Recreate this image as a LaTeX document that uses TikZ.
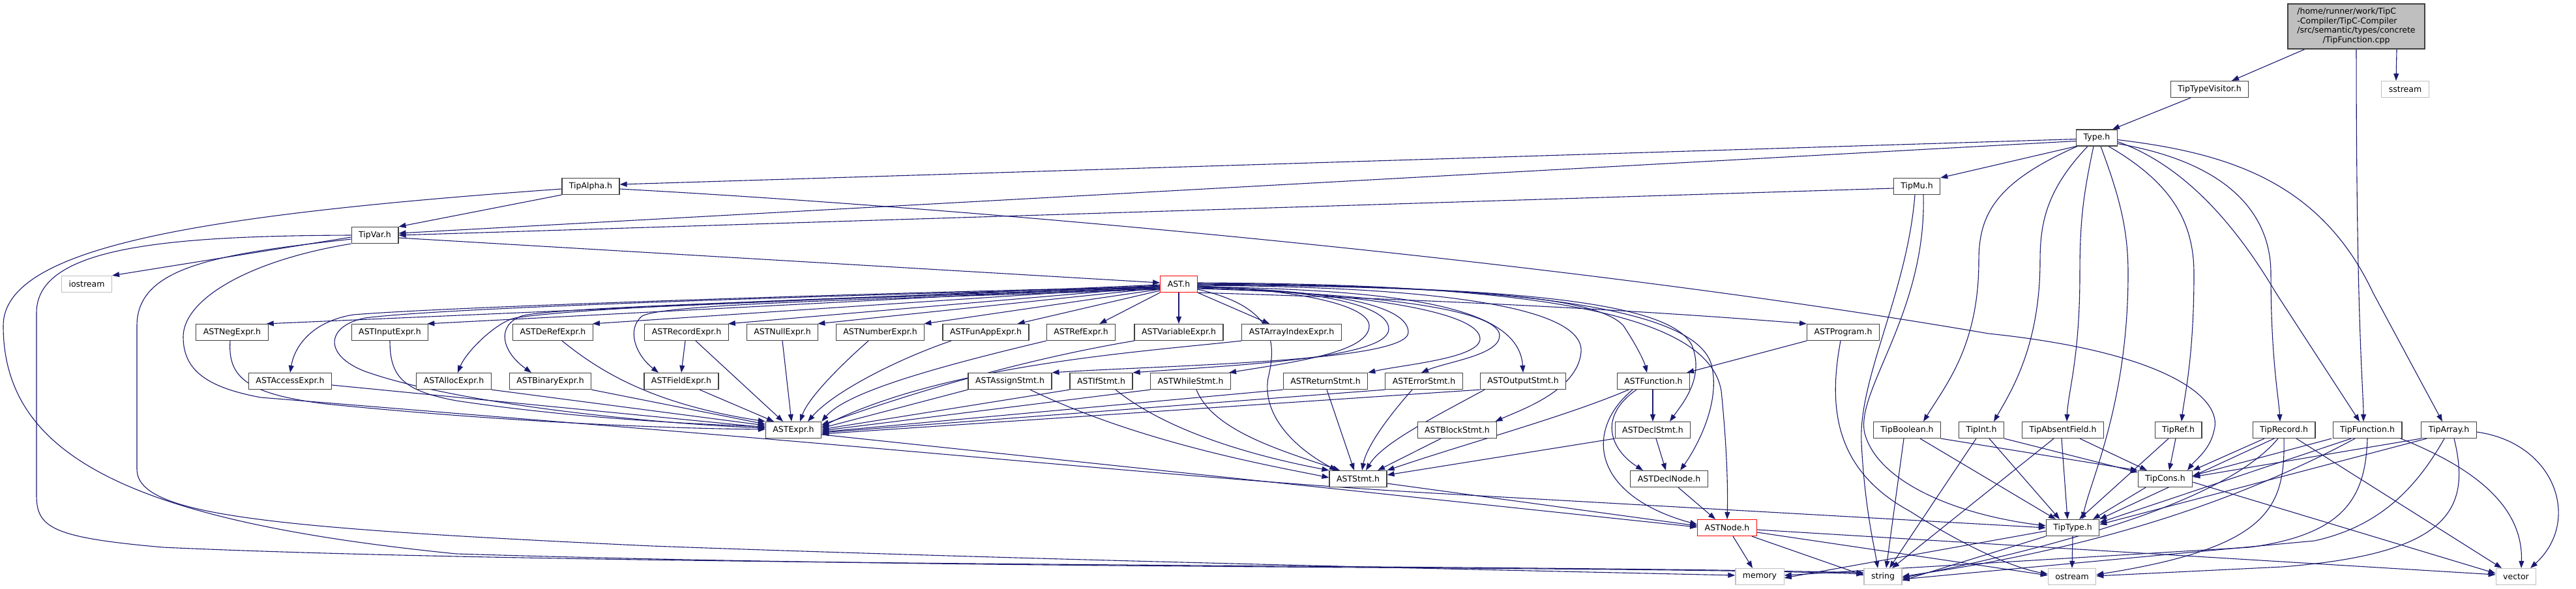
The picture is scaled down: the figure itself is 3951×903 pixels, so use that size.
\documentclass[tikz,border=0pt]{standalone}
\usepackage{fontspec}
\setmainfont{DejaVu Sans}
\usetikzlibrary{arrows.meta,backgrounds}
\definecolor{edgec}{HTML}{191970}
\definecolor{nodeb}{HTML}{404040}
\definecolor{sysb}{HTML}{BFBFBF}
\definecolor{redb}{HTML}{FF0000}
\definecolor{rootf}{HTML}{BFBFBF}
\newcommand\fsz{\fontsize{12.5}{14.5}\selectfont}
\tikzset{
  hdr/.style={draw=nodeb, line width=1.2pt, fill=white, minimum height=25pt, inner xsep=11pt, inner ysep=0pt, font=\fsz},
  sys/.style={hdr, draw=sysb},
  trunc/.style={hdr, draw=redb},
  edg/.style={draw=edgec, line width=1.1pt, -{Triangle[length=11pt,width=8pt]}},
}
\begin{document}
\begin{tikzpicture}[x=1pt,y=-1pt]
\useasboundingbox (0,0) rectangle (3951,903);
% nodes
\node[hdr, fill=rootf, minimum width=210pt, minimum height=69pt] (root) at (3614,40.5)
 {\begin{tabular}{@{}l@{}}/home/runner/work/TipC\\-Compiler/TipC-Compiler\\/src/semantic/types/concrete\\\multicolumn{1}{@{}c@{}}{/TipFunction.cpp}\end{tabular}};
\node[hdr] (ttv) at (3389,137) {TipTypeVisitor.h};
\node[sys] (sstream) at (3689,137) {sstream};
\node[hdr] (type) at (3216,211.5) {Type.h};
\node[hdr] (alpha) at (906,286) {TipAlpha.h};
\node[hdr] (mu) at (2940,286) {TipMu.h};
\node[hdr] (var) at (575,361) {TipVar.h};
\node[sys] (iostream) at (133,436) {iostream};
\node[trunc] (ast) at (1808,436) {AST.h};
\node[hdr] (neg) at (356,510) {ASTNegExpr.h};
\node[hdr] (input) at (598,510) {ASTInputExpr.h};
\node[hdr] (deref) at (848,510) {ASTDeRefExpr.h};
\node[hdr] (record) at (1053,510) {ASTRecordExpr.h};
\node[hdr] (null) at (1200,510) {ASTNullExpr.h};
\node[hdr] (number) at (1350,510) {ASTNumberExpr.h};
\node[hdr] (funapp) at (1512,510) {ASTFunAppExpr.h};
\node[hdr] (ref) at (1658,510) {ASTRefExpr.h};
\node[hdr] (variable) at (1808,510) {ASTVariableExpr.h};
\node[hdr] (arrayidx) at (1981,510) {ASTArrayIndexExpr.h};
\node[hdr] (program) at (2827,510) {ASTProgram.h};
\node[hdr] (access) at (445,585) {ASTAccessExpr.h};
\node[hdr] (alloc) at (696,585) {ASTAllocExpr.h};
\node[hdr] (binary) at (844,585) {ASTBinaryExpr.h};
\node[hdr] (field) at (1045,585) {ASTFieldExpr.h};
\node[hdr] (assign) at (1549,585) {ASTAssignStmt.h};
\node[hdr] (ifs) at (1689,585) {ASTIfStmt.h};
\node[hdr] (while) at (1826,585) {ASTWhileStmt.h};
\node[hdr] (return) at (2033,585) {ASTReturnStmt.h};
\node[hdr] (error) at (2184,585) {ASTErrorStmt.h};
\node[hdr] (output) at (2336,585) {ASTOutputStmt.h};
\node[hdr] (function) at (2536,585) {ASTFunction.h};
\node[hdr] (expr) at (1217,660) {ASTExpr.h};
\node[hdr] (block) at (2235,660) {ASTBlockStmt.h};
\node[hdr] (declstmt) at (2535,660) {ASTDeclStmt.h};
\node[hdr] (boolean) at (2925,660) {TipBoolean.h};
\node[hdr] (int) at (3039,660) {TipInt.h};
\node[hdr] (absent) at (3164,660) {TipAbsentField.h};
\node[hdr] (tref) at (3341,660) {TipRef.h};
\node[hdr] (trecord) at (3503,660) {TipRecord.h};
\node[hdr] (tfunction) at (3631,660) {TipFunction.h};
\node[hdr] (tarray) at (3756,660) {TipArray.h};
\node[hdr] (stmt) at (2083,735) {ASTStmt.h};
\node[hdr] (declnode) at (2560,735) {ASTDeclNode.h};
\node[hdr] (cons) at (3321,735) {TipCons.h};
\node[trunc] (node) at (2649,810) {ASTNode.h};
\node[hdr] (tiptype) at (3179,810) {TipType.h};
\node[sys] (memory) at (2699,885) {memory};
\node[sys] (string) at (2888,885) {string};
\node[sys] (ostream) at (3178,885) {ostream};
\node[sys] (vector) at (3859,885) {vector};
\begin{pgfonlayer}{background}
% root
\draw[edg] ([xshift=-79pt]root.south) -- ([xshift=34pt]ttv.north);
\draw[edg] ([xshift=62pt]root.south) -- ([xshift=-14pt]sstream.north);
\draw[edg] (root.south) .. controls (3614,500) and (3625,600) .. ([xshift=-6pt]tfunction.north);
\draw[edg] ([xshift=-29pt]ttv.south) -- ([xshift=-8pt]type.north east);
% Type.h
\draw[edg] ([yshift=-2pt]type.west) -- ([yshift=3pt]alpha.east);
\draw[edg] ([yshift=-5pt]type.west) -- ([yshift=3pt]var.east);
\draw[edg] (type.south west) -- (mu.north east);
\draw[edg] ([xshift=-30pt]type.south) .. controls (3060,280) and (3035,330) .. (3035,400) .. controls (3035,530) and (2985,590) .. ([xshift=25pt]boolean.north);
\draw[edg] ([xshift=-14pt]type.south) .. controls (3140,290) and (3129,340) .. (3129,400) .. controls (3129,530) and (3085,600) .. ([xshift=19pt]int.north);
\draw[edg] ([xshift=-5pt]type.south) .. controls (3195,300) and (3190,340) .. (3190,420) .. controls (3190,550) and (3172,600) .. ([xshift=6pt]absent.north);
\draw[edg] ([xshift=6pt]type.south) .. controls (3250,300) and (3264,350) .. (3264,420) .. controls (3264,620) and (3205,740) .. ([xshift=15pt]tiptype.north);
\draw[edg] ([xshift=18pt]type.south) .. controls (3330,280) and (3365,340) .. (3365,420) .. controls (3365,550) and (3350,610) .. ([xshift=5pt]tref.north);
\draw[edg] ([yshift=-9pt]type.east) .. controls (3420,250) and (3483,330) .. (3483,420) .. controls (3483,550) and (3495,610) .. ([xshift=-6pt]trecord.north);
\draw[edg] ([yshift=-6pt]type.east) .. controls (3340,250) and (3420,330) .. (3491,450) -- ([xshift=-12pt]tfunction.north);
\draw[edg] ([yshift=-3pt]type.east) .. controls (3420,235) and (3560,280) .. (3640,450) -- ([xshift=-10pt]tarray.north);
% TipAlpha
\draw[edg] (alpha.south west) -- (var.north east);
\draw[edg] ([yshift=-4pt]alpha.east) .. controls (1500,320) and (2400,400) .. (3050,512) .. controls (3320,540) and (3410,610) .. (3396,660) .. controls (3390,690) and (3368,705) .. ([xshift=34pt]cons.north);
\draw[edg] ([yshift=-4pt]alpha.west) .. controls (300,330) and (5,380) .. (5,500) .. controls (5,700) and (200,800) .. (700,850) .. controls (1500,875) and (2500,868) .. ([yshift=4pt]string.west);
% TipVar
\draw[edg] ([yshift=-6pt]var.west) .. controls (330,390) and (210,410) .. (210,500) -- (210,720) .. controls (210,790) and (400,810) .. (1000,838) .. controls (1600,860) and (2300,875) .. ([yshift=2pt]memory.west);
\draw[edg] (var.west) .. controls (250,362) and (56,380) .. (56,480) -- (56,760) .. controls (56,810) and (80,825) .. (250,840) .. controls (900,870) and (2300,866) .. ([yshift=6pt]string.west);
\draw[edg] ([yshift=-3pt]var.west) -- (iostream.north east);
\draw[edg] ([yshift=-4pt]var.east) -- ([yshift=2pt]ast.west);
\draw[edg] (var.south west) .. controls (380,400) and (281,460) .. (281,517) .. controls (281,570) and (320,595) .. (400,610) -- (1000,659) .. controls (1500,700) and (1900,740) .. (2200,757) -- (tiptype.west);
% TipMu
\draw[edg] ([yshift=-3pt]mu.west) -- (var.east);
\draw[edg] ([xshift=-3pt]mu.south) .. controls (2925,450) and (2850,580) .. (2855,680) .. controls (2860,780) and (2875,840) .. ([xshift=-8pt]string.north);
\draw[edg] ([xshift=10pt]mu.south) .. controls (2955,480) and (2845,600) .. (2860,665) .. controls (2880,740) and (3000,790) .. ([yshift=3pt]tiptype.west);
% AST.h left fan
\draw[edg] ([yshift=-1pt]ast.west) -- ([xshift=-3pt]neg.north east);
\draw[edg] ([yshift=-2pt]ast.west) -- ([xshift=-2pt]input.north east);
\draw[edg] ([yshift=-3pt]ast.west) -- ([xshift=-1pt]deref.north east);
\draw[edg] ([yshift=-4pt]ast.west) -- ([xshift=-1pt]record.north east);
\draw[edg] ([yshift=-6pt]ast.west) -- ([xshift=-1pt]null.north east);
\draw[edg] ([yshift=-8pt]ast.west) -- ([xshift=-1pt]number.north east);
\draw[edg] ([yshift=-10pt]ast.west) -- ([xshift=-18pt]funapp.north east);
\draw[edg] (ast.south west) -- ([xshift=-25pt]ref.north east);
\draw[edg] (ast.south) -- (variable.north);
\draw[edg] (ast.south east) -- ([xshift=-34pt]arrayidx.north);
\draw[edg] ([yshift=-4pt]ast.west) .. controls (1400,448) and (700,470) .. (542,483) .. controls (480,493) and (452,530) .. (access.north);
\draw[edg] ([yshift=-5pt]ast.west) .. controls (1400,450) and (700,470) .. (560,488) .. controls (500,500) and (495,545) .. (560,570) .. controls (700,620) and (1000,650) .. ([yshift=3pt]expr.west);
\draw[edg] ([yshift=-6pt]ast.west) .. controls (1400,452) and (900,470) .. (790,488) .. controls (760,495) and (715,540) .. ([xshift=6pt]alloc.north);
\draw[edg] ([yshift=-7pt]ast.west) .. controls (1400,455) and (850,470) .. (800,485) .. controls (760,500) and (770,540) .. ([xshift=-29pt]binary.north);
\draw[edg] ([yshift=-8pt]ast.west) .. controls (1400,458) and (1020,465) .. (985,485) .. controls (960,505) and (975,545) .. ([xshift=-35pt]field.north);
% AST.h right fan
\draw[edg] ([yshift=-3pt]ast.east) .. controls (2000,445) and (2100,470) .. (2100,500) .. controls (2100,540) and (1990,555) .. ([xshift=-3pt]while.north east);
\draw[edg] ([yshift=-4pt]ast.east) .. controls (2030,445) and (2130,470) .. (2130,505) .. controls (2130,550) and (1900,560) .. (ifs.north east);
\draw[edg] ([yshift=-5pt]ast.east) .. controls (2050,445) and (2160,470) .. (2160,510) .. controls (2160,555) and (1800,560) .. (assign.north east);
\draw[edg] ([yshift=-6pt]ast.east) .. controls (2100,450) and (2270,480) .. (2270,520) .. controls (2270,550) and (2150,560) .. (return.north east);
\draw[edg] ([yshift=-7pt]ast.east) .. controls (2150,452) and (2300,480) .. (2300,515) .. controls (2300,545) and (2220,555) .. ([xshift=-4pt]error.north);
\draw[edg] ([yshift=-4pt]ast.east) .. controls (2150,445) and (2330,470) .. (output.north);
\draw[edg] ([yshift=-2pt]ast.east) .. controls (2200,440) and (2430,470) .. (2425,540) .. controls (2420,600) and (2330,630) .. ([xshift=-3pt]block.north east);
\draw[edg] ([yshift=-1pt]ast.east) .. controls (2250,440) and (2450,455) .. (2490,500) .. controls (2510,530) and (2522,555) .. ([xshift=-10pt]function.north);
\draw[edg] (ast.east) .. controls (2300,440) and (2560,460) .. (2595,530) .. controls (2615,580) and (2580,620) .. ([xshift=26pt]declstmt.north);
\draw[edg] ([yshift=1pt]ast.east) .. controls (2320,438) and (2600,470) .. (2625,560) .. controls (2640,620) and (2600,690) .. ([xshift=17pt]declnode.north);
\draw[edg] ([yshift=2pt]ast.east) .. controls (2350,436) and (2620,480) .. (2640,600) .. controls (2650,700) and (2650,760) .. (node.north);
\draw[edg] (ast.south east) .. controls (2200,460) and (2500,475) .. (program.north west);
\draw[edg] ([yshift=-8pt]ast.east) .. controls (1950,470) and (1960,520) .. (1945,580) .. controls (1935,640) and (1990,690) .. ([xshift=-33pt]stmt.north);
% expressions -> ASTExpr
\draw[edg] ([xshift=-3pt]neg.south) .. controls (349,580) and (380,605) .. (500,620) .. controls (800,650) and (1050,658) .. ([yshift=1pt]expr.west);
\draw[edg] ([yshift=-6pt]access.east) -- ([yshift=4pt]expr.west);
\draw[edg] (input.south) .. controls (598,580) and (620,600) .. (700,615) .. controls (900,645) and (1100,652) .. ([yshift=5pt]expr.west);
\draw[edg] (alloc.south east) -- ([yshift=7pt]expr.west);
\draw[edg] (binary.south east) -- ([yshift=9pt]expr.west);
\draw[edg] ([xshift=14pt]deref.south) .. controls (920,570) and (1000,620) .. (expr.north west);
\draw[edg] ([xshift=28pt]field.south) -- ([xshift=-30pt]expr.north);
\draw[edg] ([xshift=-2pt]record.south) -- (field.north);
\draw[edg] ([xshift=14pt]record.south) -- ([xshift=-16pt]expr.north);
\draw[edg] (null.south) -- ([xshift=-3pt]expr.north);
\draw[edg] ([xshift=-18pt]number.south) .. controls (1290,560) and (1240,610) .. ([xshift=10pt]expr.north);
\draw[edg] ([xshift=-53pt]funapp.south) .. controls (1380,550) and (1280,600) .. ([xshift=22pt]expr.north);
\draw[edg] (ref.south west) .. controls (1450,560) and (1300,600) .. (expr.north east);
\draw[edg] (variable.south west) .. controls (1550,555) and (1380,610) .. ([yshift=8pt]expr.east);
\draw[edg] (arrayidx.south west) .. controls (1750,540) and (1450,560) .. ([yshift=5pt]expr.east);
\draw[edg] (assign.south west) -- ([yshift=3pt]expr.east);
\draw[edg] (ifs.south west) -- ([yshift=1pt]expr.east);
\draw[edg] (while.south west) -- ([yshift=-1pt]expr.east);
\draw[edg] (return.south west) -- ([yshift=-3pt]expr.east);
\draw[edg] (error.south west) -- ([yshift=-4pt]expr.east);
\draw[edg] (output.south west) -- ([yshift=-6pt]expr.east);
% statements
\draw[edg] ([xshift=31pt]assign.south) .. controls (1750,680) and (1950,715) .. ([yshift=2pt]stmt.west);
\draw[edg] ([xshift=22pt]ifs.south) .. controls (1800,670) and (1950,705) .. (stmt.north west);
\draw[edg] ([xshift=9pt]while.south) .. controls (1860,660) and (1960,690) .. ([xshift=-28pt]stmt.north);
\draw[edg] ([xshift=2pt]return.south) -- ([xshift=-6pt]stmt.north);
\draw[edg] ([xshift=-18pt]error.south) .. controls (2120,650) and (2095,690) .. ([xshift=6pt]stmt.north);
\draw[edg] ([xshift=-59pt]output.south) .. controls (2200,640) and (2120,680) .. ([xshift=12pt]stmt.north);
\draw[edg] ([xshift=-25pt]block.south) -- ([xshift=30pt]stmt.north);
\draw[edg] ([xshift=-38pt]function.south) .. controls (2400,640) and (2250,680) .. (stmt.north east);
\draw[edg] (declstmt.south west) -- ([yshift=6pt]stmt.east);
\draw[edg] ([xshift=-1pt]function.south) -- (declstmt.north);
\draw[edg] ([xshift=-26pt]function.south) .. controls (2450,640) and (2470,690) .. ([xshift=-40pt]declnode.north);
\draw[edg] ([xshift=-32pt]function.south) .. controls (2430,660) and (2440,760) .. ([yshift=5pt]node.west);
\draw[edg] ([xshift=5pt]declstmt.south) -- ([xshift=-5pt]declnode.north);
\draw[edg] ([xshift=14pt]declnode.south) -- ([xshift=-18pt]node.north);
\draw[edg] (program.south west) -- ([xshift=-5pt]function.north east);
\draw[edg] ([xshift=-4pt]program.south) .. controls (2805,620) and (2810,720) .. (2930,785) .. controls (3000,830) and (3080,870) .. ([yshift=4pt]ostream.west);
\draw[edg] ([yshift=-7pt]stmt.east) -- ([yshift=3pt]node.west);
\draw[edg] ([yshift=-7pt]expr.east) -- ([yshift=1pt]node.west);
% ASTNode
\draw[edg] ([xshift=9pt]node.south) -- ([xshift=-11pt]memory.north);
\draw[edg] ([xshift=-8pt]node.south east) -- ([yshift=2pt]string.west);
\draw[edg] ([yshift=-3pt]node.east) -- ([yshift=3pt]vector.west);
\draw[edg] ([yshift=-7pt]node.east) -- ([yshift=2pt]ostream.west);
% Tip types
\draw[edg] ([xshift=-5pt]boolean.south) -- ([xshift=5pt]string.north);
\draw[edg] ([xshift=20pt]boolean.south) -- ([xshift=-26pt]tiptype.north);
\draw[edg] (boolean.south east) -- (cons.north west);
\draw[edg] ([xshift=-8pt]int.south) -- ([xshift=10pt]string.north);
\draw[edg] ([xshift=12pt]int.south) -- ([xshift=-20pt]tiptype.north);
\draw[edg] (int.south east) -- ([yshift=-3pt]cons.north west);
\draw[edg] ([xshift=-14pt]absent.south) -- ([xshift=14pt]string.north);
\draw[edg] ([xshift=-2pt]absent.south) -- ([xshift=-8pt]tiptype.north);
\draw[edg] ([xshift=26pt]absent.south) -- ([xshift=-28pt]cons.north);
\draw[edg] ([xshift=-15pt]tref.south) -- ([xshift=10pt]tiptype.north);
\draw[edg] ([xshift=-4pt]tref.south) -- ([xshift=6pt]cons.north);
\draw[edg] ([xshift=-30pt]trecord.south) -- (cons.north east);
\draw[edg] ([xshift=-15pt]trecord.south) -- (tiptype.north east);
\draw[edg] ([xshift=-9pt]trecord.south) .. controls (3430,750) and (3250,815) .. (3000,870) -- ([yshift=-2pt]string.east);
\draw[edg] (trecord.south) .. controls (3505,780) and (3480,840) .. ([yshift=3pt]ostream.east);
\draw[edg] ([xshift=19pt]trecord.south) -- ([xshift=-22pt]vector.north);
\draw[edg] ([xshift=-55pt]tfunction.south) -- ([yshift=5pt]cons.east);
\draw[edg] ([xshift=-25pt]tfunction.south) -- ([yshift=8pt]tiptype.east);
\draw[edg] ([xshift=-19pt]tfunction.south) .. controls (3450,760) and (3250,830) .. (3000,872) -- (string.east);
\draw[edg] (tfunction.south) .. controls (3628,760) and (3600,820) .. (3450,840) -- ([yshift=2pt]memory.east);
\draw[edg] ([xshift=51pt]tfunction.south) .. controls (3800,720) and (3870,780) .. ([xshift=8pt]vector.north);
\draw[edg] ([xshift=-43pt]tarray.south) -- ([yshift=3pt]cons.east);
\draw[edg] ([xshift=-34pt]tarray.south) -- ([yshift=5pt]tiptype.east);
\draw[edg] ([xshift=-7pt]tarray.south) .. controls (3700,760) and (3640,810) .. (3550,830) -- ([yshift=-4pt]string.east);
\draw[edg] ([xshift=8pt]tarray.south) .. controls (3790,780) and (3760,850) .. (3500,870) -- ([yshift=1pt]ostream.east);
\draw[edg] ([yshift=-3pt]tarray.east) .. controls (3920,680) and (3960,800) .. ([xshift=22pt]vector.north);
% TipType, TipCons
\draw[edg] (tiptype.south) -- (ostream.north);
\draw[edg] ([yshift=-5pt]tiptype.west) -- ([yshift=-2pt]memory.east);
\draw[edg] (tiptype.south west) -- ([yshift=-6pt]string.east);
\draw[edg] ([xshift=-30pt]cons.south) -- ([xshift=31pt]tiptype.north);
\draw[edg] ([yshift=-5pt]cons.east) -- ([yshift=5pt]vector.west);
\end{pgfonlayer}
\end{tikzpicture}
\end{document}
